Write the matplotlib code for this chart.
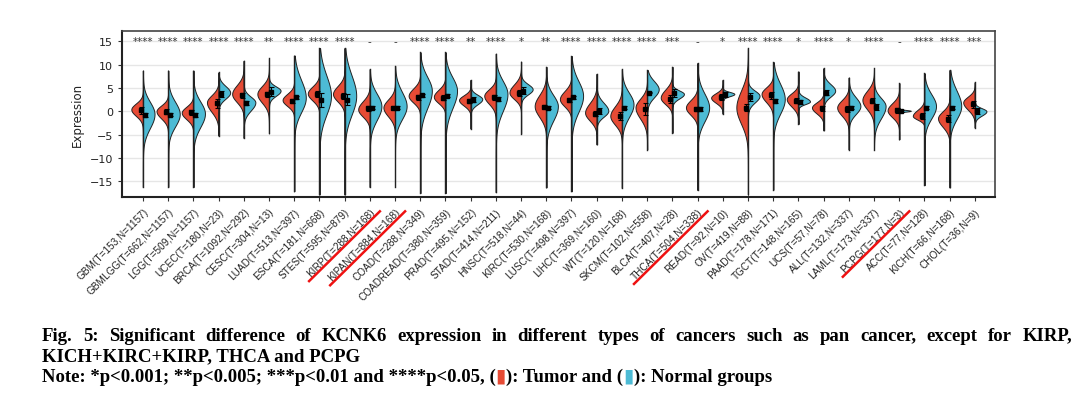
import numpy as np
import matplotlib
matplotlib.use('Agg')
import matplotlib.pyplot as plt
from matplotlib.lines import Line2D

cancers = ['GBM', 'GBMLGG', 'LGG', 'UCEC', 'BRCA', 'CESC', 'LUAD', 'ESCA', 'STES', 'KIRP',
           'KIPAN', 'COAD', 'COADREAD', 'PRAD', 'STAD', 'HNSC', 'KIRC', 'LUSC', 'LIHC', 'WT',
           'SKCM', 'BLCA', 'THCA', 'READ', 'OV', 'PAAD', 'TGCT', 'UCS', 'ALL', 'LAML',
           'PCPG', 'ACC', 'KICH', 'CHOL']
n_tumor = [153, 662, 509, 180, 1092, 304, 513, 181, 595, 288,
           884, 288, 380, 495, 414, 518, 530, 498, 369, 120,
           102, 407, 504, 92, 419, 178, 148, 57, 132, 173,
           177, 77, 66, 36]
n_normal = [1157, 1157, 1157, 23, 292, 13, 397, 668, 879, 168,
            168, 349, 359, 152, 211, 44, 168, 397, 160, 168,
            558, 28, 338, 10, 88, 171, 165, 78, 337, 337,
            3, 128, 168, 9]
signif = ['****', '****', '****', '****', '****', '**', '****', '****', '****', '-',
          '-', '****', '****', '**', '****', '*', '**', '****', '****', '****',
          '****', '***', '-', '*', '****', '****', '*', '****', '*', '****',
          '-', '****', '****', '***']
underlined = ['KIRP', 'KIPAN', 'THCA', 'PCPG']

# half violin bodies: upper edge, peak, lower edge
tumor_top = [3.3, 2.8, 2.6, 5.4, 8.0, 7.6, 5.4, 7.2, 7.6, 4.4,
             4.7, 6.9, 6.5, 4.7, 6.5, 8.0, 6.5, 6.5, 4.4, 3.7,
             5.1, 6.9, 4.4, 5.1, 9.0, 6.9, 5.4, 3.3, 4.4, 6.9,
             3.7, 1.9, 1.9, 4.7]
tumor_peak = [0.4, 0.0, -0.3, 1.9, 3.7, 3.7, 2.4, 3.8, 3.7, 0.4,
              0.8, 3.3, 3.1, 2.4, 3.3, 4.0, 1.1, 2.6, -0.3, -1.0,
              0.8, 2.9, 0.8, 2.9, 0.8, 3.7, 2.6, 0.8, 0.8, 2.4,
              0.2, -1.0, -1.5, 1.9]
tumor_bot = [-2.8, -3.5, -3.5, -2.8, -0.3, -0.6, -0.5, 0.4, 0.0, -3.2,
             -3.5, 0.0, 0.0, -0.3, -0.6, 0.8, -4.2, -1.0, -4.2, -5.3,
             -4.6, -0.3, -2.8, 0.4, -7.1, -0.3, -1.0, -2.1, -3.2, -2.1,
             -3.2, -2.8, -5.7, -1.7]
normal_top = [5.4, 5.4, 5.4, 7.2, 4.7, 6.5, 11.5, 13.3, 13.3, 7.2,
              8.0, 11.2, 11.0, 4.7, 10.1, 7.2, 6.5, 10.5, 4.0, 7.2,
              8.7, 5.4, 7.6, 4.7, 5.8, 10.1, 4.0, 7.6, 5.4, 5.1,
              0.5, 6.9, 8.7, 1.5]
normal_peak = [-0.6, -0.6, -0.5, 4.0, 1.9, 4.4, 2.9, 3.3, 3.3, 1.1,
               1.1, 4.4, 4.4, 2.6, 3.7, 4.7, 1.1, 3.3, 0.1, 1.5,
               4.7, 3.7, 0.8, 3.7, 3.3, 2.6, 2.1, 4.4, 1.1, 1.1,
               0.1, 1.1, 1.1, 0.0]
normal_bot = [-7.5, -6.7, -7.1, 1.0, -2.1, 1.9, -4.2, -6.0, -6.0, -5.7,
              -5.3, -4.2, -4.2, 0.1, -4.6, 2.2, -6.0, -4.6, -2.8, -4.9,
              0.8, 1.5, -6.0, 2.6, 0.1, -4.6, 0.8, 1.5, -2.8, -4.9,
              -0.3, -4.9, -5.3, -2.1]
# range of the thin tails (both groups)
tail_lo = [-16.2, -16.2, -16.2, -5.2, -5.7, -4.7, -17.1, -17.8, -17.8, -16.2,
           -16.2, -17.5, -17.5, -3.7, -17.3, -4.8, -16.3, -17.1, -7.1, -16.4,
           -8.2, -4.6, -16.8, -0.5, -17.8, -16.8, -2.7, -4.1, -8.2, -8.2,
           -6.0, -15.8, -16.3, -3.5]
tail_hi = [8.7, 8.7, 8.7, 8.3, 10.8, 11.3, 11.9, 13.5, 13.5, 9.0,
           9.7, 12.6, 12.6, 6.7, 12.3, 10.6, 9.5, 11.8, 8.0, 9.0,
           8.8, 9.5, 10.3, 6.7, 13.5, 10.5, 8.5, 9.2, 7.2, 9.2,
           6.0, 8.1, 8.8, 6.2]
# mean and error bar of each group
tumor_mean = [0.2, -0.1, -0.2, 1.7, 3.4, 3.6, 2.2, 3.7, 3.3, 0.6,
              0.8, 3.0, 2.9, 2.2, 3.0, 3.9, 1.0, 2.4, -0.5, -1.0,
              0.5, 2.6, 0.5, 3.0, 0.8, 3.4, 2.3, 0.6, 0.5, 2.3,
              0.2, -1.0, -1.6, 1.5]
normal_mean = [-0.8, -0.7, -0.8, 3.7, 1.8, 4.2, 3.0, 2.5, 2.5, 0.8,
               0.8, 3.4, 3.3, 2.5, 2.6, 4.4, 0.8, 3.0, 0.0, 0.8,
               4.0, 3.9, 0.5, 3.6, 3.1, 2.2, 2.0, 4.0, 0.8, 0.9,
               0.1, 0.8, 0.8, 0.0]
tumor_err = [0.8, 0.5, 0.5, 0.9, 0.6, 0.5, 0.4, 0.7, 0.6, 0.5,
             0.4, 0.5, 0.5, 0.5, 0.5, 0.6, 0.4, 0.5, 0.5, 0.8,
             1.2, 0.9, 0.4, 0.6, 0.8, 0.7, 0.5, 0.6, 0.6, 0.5,
             0.6, 0.6, 0.7, 0.8]
normal_err = [0.4, 0.4, 0.4, 0.6, 0.4, 1.0, 0.3, 1.5, 1.2, 0.4,
              0.4, 0.3, 0.3, 0.6, 0.5, 0.8, 0.4, 0.3, 0.6, 0.3,
              0.2, 0.8, 0.4, 0.5, 0.9, 0.4, 0.4, 0.6, 0.3, 0.6,
              0.2, 0.3, 0.3, 0.6]

RED = '#E64B35'
BLUE = '#4DBBD5'
HALF_W = 0.46


def half_profile(top, peak, bot, lo, hi):
    y = np.linspace(lo, hi, 500)
    sd = np.where(y > peak, (top - peak) / 2.3, (peak - bot) / 2.3)
    sd = np.maximum(sd, 0.05)
    return y, np.exp(-0.5 * ((y - peak) / sd) ** 2)


W, H = 1084, 402
fig = plt.figure(figsize=(W / 100, H / 100), dpi=100)
ax = fig.add_axes([122 / W, 1 - 198.3 / H, (995 - 122) / W, (198.3 - 32.3) / H])

for i in range(len(cancers)):
    lo, hi = tail_lo[i], tail_hi[i]
    y, d = half_profile(tumor_top[i], tumor_peak[i], tumor_bot[i], lo, hi)
    ax.fill_betweenx(y, i - HALF_W * d, i, facecolor=RED, edgecolor='#222222', lw=0.7, zorder=2)
    y, d = half_profile(normal_top[i], normal_peak[i], normal_bot[i], lo, hi)
    ax.fill_betweenx(y, i, i + HALF_W * d, facecolor=BLUE, edgecolor='#222222', lw=0.7, zorder=2)
    ax.plot([i, i], [lo, hi], color='#222222', lw=1.0, zorder=3)
    ax.text(i, 15, signif[i], ha='center', va='center', fontsize=7.5, color='#333333')

x = np.arange(len(cancers))
ax.errorbar(x - 0.08, tumor_mean, yerr=tumor_err, fmt='s', ms=2.2, color='black',
            elinewidth=0.8, capsize=1.8, capthick=0.8, zorder=4)
ax.errorbar(x + 0.08, normal_mean, yerr=normal_err, fmt='s', ms=2.2, color='black',
            elinewidth=0.8, capsize=1.8, capthick=0.8, zorder=4)

ax.set_xlim(-0.83, 33.8)
ax.set_ylim(-18.4, 17.1)
ax.set_yticks([-15, -10, -5, 0, 5, 10, 15])
ax.yaxis.grid(True, color='#e6e6e6', lw=1.0, zorder=0)
ax.set_axisbelow(True)
ax.set_ylabel('Expression', fontsize=8.5, color='#222222', labelpad=4)
ax.tick_params(axis='y', labelsize=8, length=3, color='#333333', labelcolor='#222222')
ax.tick_params(axis='x', length=3, color='#333333')
labels = [f'{c}(T={t},N={n})' for c, t, n in zip(cancers, n_tumor, n_normal)]
ax.set_xticks(x)
ax.set_xticklabels(labels, rotation=45, ha='right', rotation_mode='anchor',
                   fontsize=7.2, family='Liberation Sans', color='#222222')
for side in ['left', 'bottom']:
    ax.spines[side].set_linewidth(1.5)
    ax.spines[side].set_color('#222222')
for side in ['top', 'right']:
    ax.spines[side].set_linewidth(1.2)
    ax.spines[side].set_color('#444444')

fig.canvas.draw()
renderer = fig.canvas.get_renderer()

# red strike lines under the excluded cancer types
for lab, c in zip(ax.get_xticklabels(), cancers):
    if c in underlined:
        bb = lab.get_window_extent(renderer)
        fig.add_artist(Line2D([(bb.x0 + 4) / W, (bb.x1 + 3) / W],
                              [(bb.y0 - 3) / H, (bb.y1 - 5) / H],
                              color='#ee1111', lw=1.8, transform=fig.transFigure))

cap_kw = dict(fontsize=13.5, fontweight='bold', family=['Liberation Serif', 'DejaVu Sans'],
              va='baseline', ha='left')


def place_pieces(pieces, y_px, x_left, x_right=None):
    arts = [fig.text(0, 1 - y_px / H, s, color=col, **cap_kw) for s, col in pieces]
    widths = [a.get_window_extent(renderer).width for a in arts]
    gap = 0 if x_right is None else (x_right - x_left - sum(widths)) / (len(arts) - 1)
    xpos = x_left
    for a, wd in zip(arts, widths):
        a.set_x(xpos / W)
        xpos += wd + gap


line1 = ('Fig. 5: Significant difference of KCNK6 expression in different types of cancers '
         'such as pan cancer, except for KIRP,')
place_pieces([(w, 'black') for w in line1.split()], 340.7, 42, 1072)
fig.text(42 / W, 1 - 361.7 / H, 'KICH+KIRC+KIRP, THCA and PCPG', **cap_kw)
place_pieces([('Note: *p<0.001; **p<0.005; ***p<0.01 and ****p<0.05, (', 'black'),
              ('\u25ae', RED), ('): Tumor and (', 'black'), ('\u25ae', BLUE),
              ('): Normal groups', 'black')], 381.7, 42)

fig.savefig('out.png', dpi=100)
